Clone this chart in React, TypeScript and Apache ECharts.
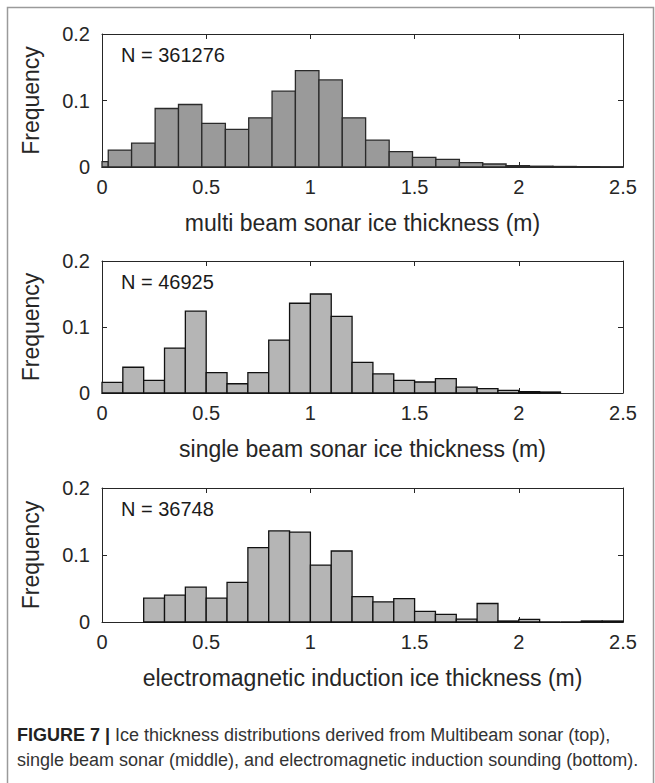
import React, { useEffect, useRef } from "react";
import * as echarts from "echarts";

// ---- data ----
const xTickValues = [0, 0.5, 1, 1.5, 2, 2.5];
const yTickValues = [0, 0.1, 0.2];

// multi beam sonar histogram (bin edges in m, relative frequency)
const multiBeamEdges = [0, 0.03, 0.142, 0.255, 0.367, 0.479, 0.592, 0.704, 0.816, 0.928, 1.041, 1.153, 1.265, 1.378, 1.49, 1.602, 1.715, 1.827, 1.939, 2.051, 2.164, 2.276, 2.388, 2.5];
const multiBeamFreq = [0.008, 0.0255, 0.036, 0.088, 0.094, 0.0655, 0.0565, 0.074, 0.114, 0.145, 0.131, 0.074, 0.0405, 0.023, 0.0145, 0.0115, 0.0065, 0.0045, 0.002, 0.0012, 0.0008, 0.0005, 0.0004];

// single beam sonar histogram
const singleBeamEdges = [0, 0.1, 0.2, 0.3, 0.4, 0.5, 0.6, 0.7, 0.8, 0.9, 1.0, 1.1, 1.2, 1.3, 1.4, 1.5, 1.6, 1.7, 1.8, 1.9, 2.0, 2.1, 2.2];
const singleBeamFreq = [0.016, 0.039, 0.019, 0.068, 0.124, 0.031, 0.014, 0.031, 0.08, 0.136, 0.15, 0.116, 0.0465, 0.029, 0.019, 0.0167, 0.0217, 0.009, 0.0066, 0.004, 0.002, 0.0015];

// electromagnetic induction histogram
const emEdges = [0.2, 0.3, 0.4, 0.5, 0.6, 0.7, 0.8, 0.9, 1.0, 1.1, 1.2, 1.3, 1.4, 1.5, 1.6, 1.7, 1.8, 1.9, 2.0, 2.1, 2.2, 2.3, 2.4, 2.5];
const emFreq = [0.0355, 0.04, 0.052, 0.0355, 0.059, 0.111, 0.136, 0.134, 0.085, 0.106, 0.038, 0.03, 0.035, 0.0158, 0.0113, 0.0044, 0.0276, 0.0015, 0.004, 0, 0, 0.0015, 0.0015];

const sampleCounts = ["N = 361276", "N = 46925", "N = 36748"];
const xAxisTitles = [
  "multi beam sonar ice thickness (m)",
  "single beam sonar ice thickness (m)",
  "electromagnetic induction ice thickness (m)",
];
const yAxisTitle = "Frequency";
const captionLabel = "FIGURE 7 |";
const captionLine1 = " Ice thickness distributions derived from Multibeam sonar (top),";
const captionLine2 = "single beam sonar (middle), and electromagnetic induction sounding (bottom).";

// ---- layout / style ----
const FONT = '"Liberation Sans", Arial, Helvetica, sans-serif';
const AXIS_COLOR = "#262626";
const panels = [
  { top: 34, height: 133, fill: "#9a9a9a", stroke: "#2a2a2a" },
  { top: 261, height: 132, fill: "#b5b5b5", stroke: "#111111" },
  { top: 488, height: 134, fill: "#b5b5b5", stroke: "#111111" },
];
const GRID_LEFT = 102;
const GRID_WIDTH = 521;

function toBins(edges: number[], freq: number[]) {
  return freq.map((v, i) => [edges[i], edges[i + 1], v]);
}

const histograms = [
  toBins(multiBeamEdges, multiBeamFreq),
  toBins(singleBeamEdges, singleBeamFreq),
  toBins(emEdges, emFreq),
];

export default function App() {
  const ref = useRef<HTMLDivElement>(null);

  useEffect(() => {
    if (!ref.current) return;
    const chart = echarts.init(ref.current, undefined, { renderer: "svg" });

    const grids: any[] = [];
    const xAxes: any[] = [];
    const yAxes: any[] = [];
    const series: any[] = [];
    const graphics: any[] = [];

    panels.forEach((p, i) => {
      grids.push({ left: GRID_LEFT, top: p.top, width: GRID_WIDTH, height: p.height, containLabel: false });
      const axisLine = { show: true, onZero: false, lineStyle: { color: AXIS_COLOR, width: 1 } };
      const axisTick = { show: true, inside: true, length: 5, lineStyle: { color: AXIS_COLOR, width: 1 } };
      xAxes.push({
        type: "value",
        gridIndex: i,
        min: xTickValues[0],
        max: xTickValues[xTickValues.length - 1],
        interval: 0.5,
        position: "bottom",
        axisLine,
        axisTick,
        splitLine: { show: false },
        axisLabel: {
          show: true,
          margin: 10,
          color: AXIS_COLOR,
          fontSize: 20,
          fontFamily: FONT,
          showMinLabel: true,
          showMaxLabel: true,
        },
        name: xAxisTitles[i],
        nameLocation: "middle",
        nameGap: 44,
        nameTextStyle: { color: AXIS_COLOR, fontSize: 23, fontFamily: FONT },
      });
      xAxes.push({
        type: "value",
        gridIndex: i,
        min: xTickValues[0],
        max: xTickValues[xTickValues.length - 1],
        interval: 0.5,
        position: "top",
        axisLine,
        axisTick,
        splitLine: { show: false },
        axisLabel: { show: false },
      });
      yAxes.push({
        type: "value",
        gridIndex: i,
        min: yTickValues[0],
        max: yTickValues[yTickValues.length - 1],
        interval: 0.1,
        position: "left",
        axisLine,
        axisTick,
        splitLine: { show: false },
        axisLabel: {
          show: true,
          margin: 12,
          color: AXIS_COLOR,
          fontSize: 20,
          fontFamily: FONT,
          formatter: (v: number) => String(+v.toFixed(2)),
        },
        name: yAxisTitle,
        nameLocation: "middle",
        nameGap: 60,
        nameRotate: 90,
        nameTextStyle: { color: AXIS_COLOR, fontSize: 23, fontFamily: FONT },
      });
      yAxes.push({
        type: "value",
        gridIndex: i,
        min: yTickValues[0],
        max: yTickValues[yTickValues.length - 1],
        interval: 0.1,
        position: "right",
        axisLine,
        axisTick,
        splitLine: { show: false },
        axisLabel: { show: false },
      });

      series.push({
        type: "custom",
        xAxisIndex: i * 2,
        yAxisIndex: i * 2,
        data: histograms[i],
        encode: { x: [0, 1], y: 2 },
        renderItem: (_params: any, api: any) => {
          const x0 = api.value(0);
          const x1 = api.value(1);
          const y = api.value(2);
          const a = api.coord([x0, y]);
          const b = api.coord([x1, 0]);
          return {
            type: "rect",
            shape: { x: a[0], y: a[1], width: b[0] - a[0], height: b[1] - a[1] },
            style: { fill: p.fill, stroke: p.stroke, lineWidth: 1.3 },
          };
        },
      });

      graphics.push({
        type: "text",
        x: 121,
        y: p.top + 21,
        style: {
          text: sampleCounts[i],
          fill: "#1a1a1a",
          font: `20px ${FONT}`,
          verticalAlign: "middle",
        },
      });
    });

    // outer frame
    graphics.unshift({
      type: "rect",
      shape: { x: 7.5, y: 7.5, width: 646, height: 820 },
      style: { fill: "none", stroke: "#9a9a9a", lineWidth: 1.5 },
    });

    // caption
    graphics.push({
      type: "text",
      x: 17,
      y: 735,
      style: {
        text: `{b|${captionLabel}}{n|${captionLine1}}`,
        verticalAlign: "middle",
        rich: {
          b: { font: `bold 18px ${FONT}`, fill: "#222" },
          n: { font: `18px ${FONT}`, fill: "#333" },
        },
      },
    });
    graphics.push({
      type: "text",
      x: 17,
      y: 760,
      style: {
        text: captionLine2,
        verticalAlign: "middle",
        font: `18px ${FONT}`,
        fill: "#333",
      },
    });

    chart.setOption({
      animation: false,
      backgroundColor: "#ffffff",
      grid: grids,
      xAxis: xAxes,
      yAxis: yAxes,
      series,
      graphic: graphics,
    });

    return () => chart.dispose();
  }, []);

  return (
    <div
      ref={ref}
      style={{ position: "absolute", left: 0, top: 0, width: 655, height: 783, background: "#fff" }}
    />
  );
}
